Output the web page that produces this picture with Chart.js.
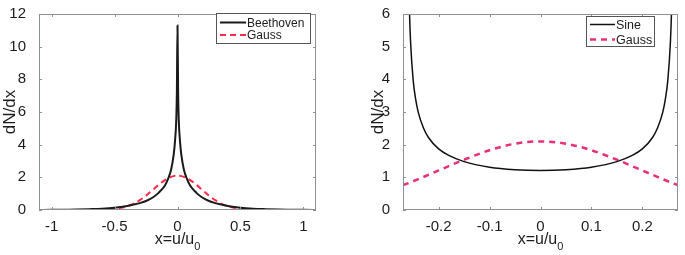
<!DOCTYPE html>
<html>
<head>
<meta charset="UTF-8">
<title>dN/dx</title>
<script src="https://cdn.jsdelivr.net/npm/chart.js"></script>
<style>
  body { margin: 0; background: #fff; }
  .panel { position: absolute; top: 0; height: 255px; }
  #left { left: 0; width: 330px; }
  #right { left: 345px; width: 340px; }
</style>
</head>
<body>
<div class="panel" id="left"><canvas id="chartL"></canvas></div>
<div class="panel" id="right"><canvas id="chartR"></canvas></div>
<script>
// left panel: Beethoven vs Gauss
const beethovenX = [-1.1, -1.0, -0.9, -0.8, -0.7, -0.6, -0.5, -0.4, -0.35, -0.3, -0.25, -0.2, -0.15, -0.1, -0.075, -0.05, -0.03, -0.02, -0.01, -0.005, 0,
                    0.005, 0.01, 0.02, 0.03, 0.05, 0.075, 0.1, 0.15, 0.2, 0.25, 0.3, 0.35, 0.4, 0.5, 0.6, 0.7, 0.8, 0.9, 1.0, 1.1];
const beethovenY = [0.005, 0.01, 0.02, 0.03, 0.05, 0.08, 0.14, 0.25, 0.33, 0.42, 0.55, 0.75, 1.05, 1.5, 1.9, 2.5, 3.4, 4.2, 5.5, 7.2, 11.3,
                    7.2, 5.5, 4.2, 3.4, 2.5, 1.9, 1.5, 1.05, 0.75, 0.55, 0.42, 0.33, 0.25, 0.14, 0.08, 0.05, 0.03, 0.02, 0.01, 0.005];
const gaussX = [-1.1, -0.9, -0.8, -0.7, -0.6, -0.5, -0.45, -0.4, -0.35, -0.3, -0.25, -0.2, -0.15, -0.1, -0.05, 0,
                0.05, 0.1, 0.15, 0.2, 0.25, 0.3, 0.35, 0.4, 0.45, 0.5, 0.6, 0.7, 0.8, 0.9, 1.1];
const gaussY = [0, 0, 0, 0.002, 0.014, 0.066, 0.13, 0.23, 0.38, 0.6, 0.88, 1.21, 1.54, 1.83, 2.03, 2.1,
                2.03, 1.83, 1.54, 1.21, 0.88, 0.6, 0.38, 0.23, 0.13, 0.066, 0.014, 0.002, 0, 0, 0];
const leftXTicks = [-1, -0.5, 0, 0.5, 1];
const leftYTicks = [0, 2, 4, 6, 8, 10, 12];

// right panel: Sine vs Gauss
const sineX = [-0.26, -0.2575, -0.255, -0.25, -0.245, -0.24, -0.23, -0.22, -0.2, -0.18, -0.15, -0.1, -0.05, 0,
               0.05, 0.1, 0.15, 0.18, 0.2, 0.22, 0.23, 0.24, 0.245, 0.25, 0.255, 0.2575, 0.26];
const sineY = [8.8, 6.24, 5.11, 3.97, 3.38, 2.99, 2.52, 2.22, 1.87, 1.67, 1.48, 1.31, 1.235, 1.213,
               1.235, 1.31, 1.48, 1.67, 1.87, 2.22, 2.52, 2.99, 3.38, 3.97, 5.11, 6.24, 8.8];
const gauss2X = [-0.27, -0.25, -0.2, -0.15, -0.1, -0.05, 0, 0.05, 0.1, 0.15, 0.2, 0.25, 0.27];
const gauss2Y = [0.76, 0.88, 1.21, 1.54, 1.83, 2.03, 2.1, 2.03, 1.83, 1.54, 1.21, 0.88, 0.76];
const rightXTicks = [-0.2, -0.1, 0, 0.1, 0.2];
const rightYTicks = [0, 1, 2, 3, 4, 5, 6];

const axisColor = '#8c9292';
const textColor = '#1c1c1c';
const fontFam = '"Liberation Sans", Arial, sans-serif';

function pts(xs, ys) {
  return xs.map((x, i) => ({ x: x, y: ys[i] }));
}

// box around the plot, ticks pointing inward, titles and legend box
const framePlugin = {
  id: 'frame',
  afterDraw(chart, args, opts) {
    const ctx = chart.ctx;
    const a = chart.chartArea;
    const xs = chart.scales.x, ys = chart.scales.y;
    ctx.save();
    ctx.strokeStyle = axisColor;
    ctx.lineWidth = 1;
    ctx.strokeRect(a.left + 0.5, a.top + 0.5, a.right - a.left - 1, a.bottom - a.top - 1);
    ctx.beginPath();
    opts.xTicks.forEach(v => {
      const px = Math.round(xs.getPixelForValue(v)) + 0.5;
      ctx.moveTo(px, a.bottom); ctx.lineTo(px, a.bottom - 3);
      ctx.moveTo(px, a.top); ctx.lineTo(px, a.top + 3);
    });
    opts.yTicks.forEach(v => {
      const py = Math.round(ys.getPixelForValue(v)) + 0.5;
      ctx.moveTo(a.left, py); ctx.lineTo(a.left + 3, py);
      ctx.moveTo(a.right, py); ctx.lineTo(a.right - 3, py);
    });
    ctx.stroke();

    // x title with subscript
    ctx.fillStyle = textColor;
    ctx.textBaseline = 'alphabetic';
    const main = 'x=u/u';
    ctx.font = '16px ' + fontFam;
    const w1 = ctx.measureText(main).width;
    ctx.font = '11px ' + fontFam;
    const w2 = ctx.measureText('0').width;
    const cx = xs.getPixelForValue(0);
    const x0 = cx - (w1 + w2) / 2;
    ctx.font = '16px ' + fontFam;
    ctx.textAlign = 'left';
    ctx.fillText(main, x0, 244);
    ctx.font = '11px ' + fontFam;
    ctx.fillText('0', x0 + w1, 250);

    // y title
    ctx.save();
    ctx.translate(opts.yTitleX, (a.top + a.bottom) / 2);
    ctx.rotate(-Math.PI / 2);
    ctx.textAlign = 'center';
    ctx.textBaseline = 'middle';
    ctx.font = '17px ' + fontFam;
    ctx.fillText('dN/dx', 0, 0);
    ctx.restore();

    // legend
    const L = opts.legend;
    ctx.fillStyle = '#fff';
    ctx.fillRect(L.x, L.y, L.w, L.h);
    ctx.strokeStyle = '#555';
    ctx.lineWidth = 1;
    ctx.strokeRect(L.x + 0.5, L.y + 0.5, L.w, L.h);
    chart.data.datasets.forEach((ds, i) => {
      const yy = L.y + L.first + i * L.step;
      ctx.strokeStyle = ds.borderColor;
      ctx.lineWidth = ds.borderWidth;
      ctx.setLineDash(ds.borderDash || []);
      ctx.beginPath();
      ctx.moveTo(L.x + 4, yy);
      ctx.lineTo(L.x + L.sample, yy);
      ctx.stroke();
      ctx.setLineDash([]);
      ctx.fillStyle = textColor;
      ctx.font = L.font + 'px ' + fontFam;
      ctx.textAlign = 'left';
      ctx.textBaseline = 'middle';
      ctx.fillText(ds.label, L.x + L.sample + 1, yy + 1);
    });
    ctx.restore();
  }
};

function makeChart(id, datasets, xMin, xMax, yMax, xTicks, yTicks, yAxisW, padRight, frameOpts) {
  return new Chart(document.getElementById(id), {
    type: 'scatter',
    data: { datasets: datasets },
    options: {
      responsive: true,
      maintainAspectRatio: false,
      animation: false,
      layout: { padding: { top: 6, right: padRight, left: 0, bottom: 0 } },
      elements: { point: { radius: 0 } },
      plugins: { legend: { display: false }, tooltip: { enabled: false }, frame: frameOpts },
      scales: {
        x: {
          type: 'linear', min: xMin, max: xMax,
          grid: { display: false },
          border: { display: false },
          afterBuildTicks: s => { s.ticks = xTicks.map(v => ({ value: v })); },
          afterFit: s => { s.height = 45; },
          ticks: { color: textColor, font: { size: 15, family: fontFam }, padding: 0, maxRotation: 0,
                   callback: v => String(v) }
        },
        y: {
          type: 'linear', min: 0, max: yMax,
          grid: { display: false },
          border: { display: false },
          afterBuildTicks: s => { s.ticks = yTicks.map(v => ({ value: v })); },
          afterFit: s => { s.width = yAxisW; },
          ticks: { color: textColor, font: { size: 15, family: fontFam }, padding: 5,
                   callback: v => String(v) }
        }
      }
    },
    plugins: [framePlugin]
  });
}

makeChart('chartL', [
  { label: 'Beethoven', data: pts(beethovenX, beethovenY), showLine: true, borderColor: '#1a1a1a', borderWidth: 2, cubicInterpolationMode: 'monotone' },
  { label: 'Gauss', data: pts(gaussX, gaussY), showLine: true, borderColor: '#ff2a48', borderWidth: 2, borderDash: [6, 4], cubicInterpolationMode: 'monotone' }
], -1.1, 1.1, 12, leftXTicks, leftYTicks, 39, 14,
  { xTicks: leftXTicks, yTicks: leftYTicks, yTitleX: 10, legend: { x: 216, y: 13, w: 94, h: 30, sample: 30, first: 9.5, step: 12.5, font: 12 } });

makeChart('chartR', [
  { label: 'Sine', data: pts(sineX, sineY), showLine: true, borderColor: '#111', borderWidth: 1.5, cubicInterpolationMode: 'monotone' },
  { label: 'Gauss', data: pts(gauss2X, gauss2Y), showLine: true, borderColor: '#e8307a', borderWidth: 2.5, borderDash: [6, 5], cubicInterpolationMode: 'monotone' }
], -0.27, 0.27, 6, rightXTicks, rightYTicks, 58, 7,
  { xTicks: rightXTicks, yTicks: rightYTicks, yTitleX: 33, legend: { x: 241, y: 16, w: 68, h: 30, sample: 29, first: 8.5, step: 15, font: 12.5 } });
</script>
</body>
</html>
